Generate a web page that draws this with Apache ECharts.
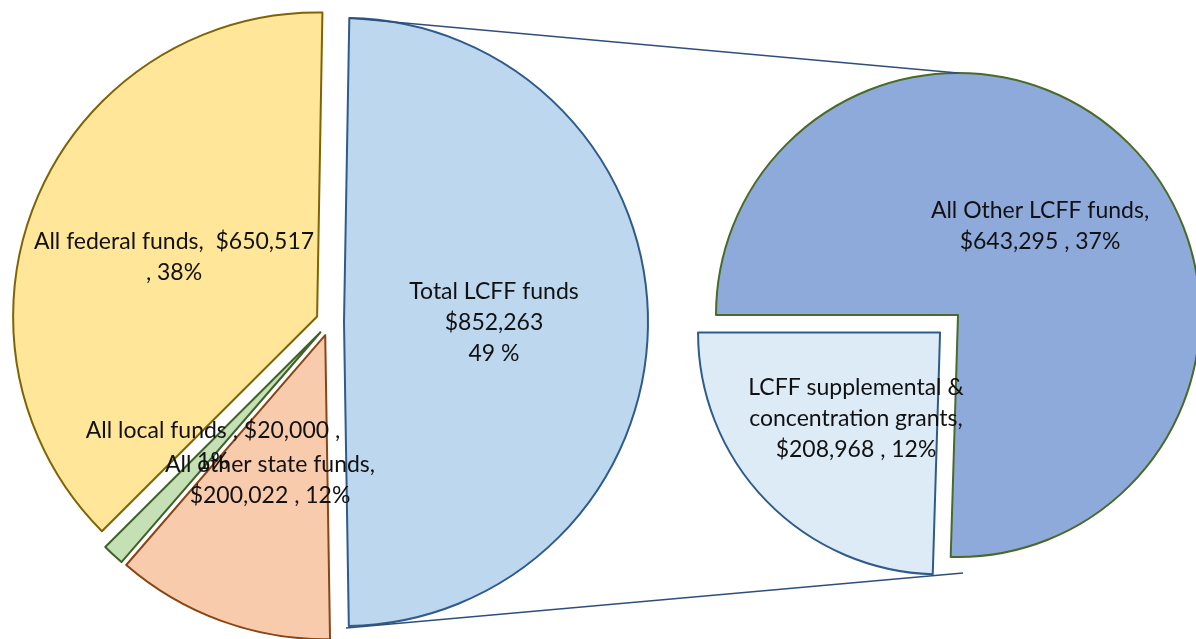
<!DOCTYPE html>
<html>
<head>
<meta charset="utf-8">
<script src="https://cdn.jsdelivr.net/npm/echarts@6/dist/echarts.min.js"></script>
<style>
  html, body { margin: 0; padding: 0; background: #fff; }
  #main { width: 1196px; height: 639px; }
</style>
</head>
<body>
<div id="main"></div>
<script>
// left pie: all funds
const leftNames = ['Total LCFF funds', 'All other state funds', 'All local funds', 'All federal funds'];
const leftValues = [852263, 200022, 20000, 650517];
// right pie: split of LCFF funds
const rightNames = ['All Other LCFF funds', 'LCFF supplemental & concentration grants'];
const rightValues = [643295, 208968];

// label layouts (Excel style, one template per slice)
const leftTemplates = ['{n}\n${v}\n{p} %', '{n},\n${v} , {p}%', '{n} , ${v} ,\n{p}%', '{n},  ${v}\n, {p}%'];
const rightTemplates = ['{n},\n${v} , {p}%', 'LCFF supplemental &\nconcentration grants,\n${v} , {p}%'];

const leftFill = ['#bdd7ee', '#f8cbad', '#c5e0b4', '#ffe699'];
const leftBorder = ['#2f5b8a', '#8a4514', '#3f6229', '#806305'];
const rightFill = ['#8eaadb', '#ddebf7'];
const rightBorder = ['#4a6a28', '#2f5b8a'];

const total = leftValues.reduce((a, b) => a + b, 0);
const fmt = v => v.toLocaleString('en-US');
const pct = v => Math.round(v / total * 100);
const fill = (t, n, v) => t.replace('{n}', n).replace('{v}', fmt(v)).replace('{p}', pct(v));

// geometry
const L = { c: [330, 322], r: 304, start: 89, off: 14 };
const R = { c: [958, 315], r: 242, start: 180, off: 25 };

// label centres
const leftLabelPos = [[494, 323], [270, 480], [213, 446], [174, 257]];
const rightLabelPos = [[1040, 226], [856, 419]];

const chart = echarts.init(document.getElementById('main'));

const FONT = 'Lato, "Open Sans", sans-serif';

function texts(names, values, templates, pos) {
  return names.map((n, i) => ({
    type: 'text',
    x: pos[i][0],
    y: pos[i][1],
    z: 100,
    style: {
      text: fill(templates[i], n, values[i]),
      fill: '#111',
      font: '23px ' + FONT,
      lineHeight: 31,
      align: 'center',
      verticalAlign: 'middle'
    }
  }));
}

// connector lines from LCFF slice ends to the second pie
const rad = d => d * Math.PI / 180;
const lcffSpan = leftValues[0] / total * 360;
const lcffMid = L.start - lcffSpan / 2;
const vx = L.c[0] + L.off * Math.cos(rad(lcffMid));
const vy = L.c[1] - L.off * Math.sin(rad(lcffMid));
const topA = [vx + L.r * Math.cos(rad(L.start)), vy - L.r * Math.sin(rad(L.start))];
const botA = [vx + 2, vy + L.r + 2];
const topB = [R.c[0], R.c[1] - R.r];
const botB = [R.c[0] + 5, R.c[1] + R.r + 16];

chart.setOption({
  animation: false,
  backgroundColor: '#fff',
  series: [
    {
      type: 'pie',
      center: L.c,
      radius: [0, L.r],
      startAngle: L.start,
      clockwise: true,
      selectedMode: 'multiple',
      selectedOffset: L.off,
      avoidLabelOverlap: false,
      label: { show: false },
      labelLine: { show: false },
      emphasis: { disabled: true },
      data: leftNames.map((n, i) => ({
        name: n,
        value: leftValues[i],
        selected: true,
        itemStyle: { color: leftFill[i], borderColor: leftBorder[i], borderWidth: 2 }
      }))
    },
    {
      type: 'pie',
      center: R.c,
      radius: [0, R.r],
      startAngle: R.start,
      clockwise: true,
      selectedMode: 'multiple',
      selectedOffset: R.off,
      avoidLabelOverlap: false,
      label: { show: false },
      labelLine: { show: false },
      emphasis: { disabled: true },
      data: rightNames.map((n, i) => ({
        name: n,
        value: rightValues[i],
        selected: i === 1,
        itemStyle: { color: rightFill[i], borderColor: rightBorder[i], borderWidth: 2 }
      }))
    }
  ],
  graphic: [
    { type: 'line', z: 90, shape: { x1: topA[0], y1: topA[1], x2: topB[0], y2: topB[1] }, style: { stroke: '#2f4f7a', lineWidth: 1.5 } },
    { type: 'line', z: 90, shape: { x1: botA[0], y1: botA[1], x2: botB[0], y2: botB[1] }, style: { stroke: '#2f4f7a', lineWidth: 1.5 } }
  ].concat(
    texts(leftNames, leftValues, leftTemplates, leftLabelPos),
    texts(rightNames, rightValues, rightTemplates, rightLabelPos)
  )
});
</script>
</body>
</html>
